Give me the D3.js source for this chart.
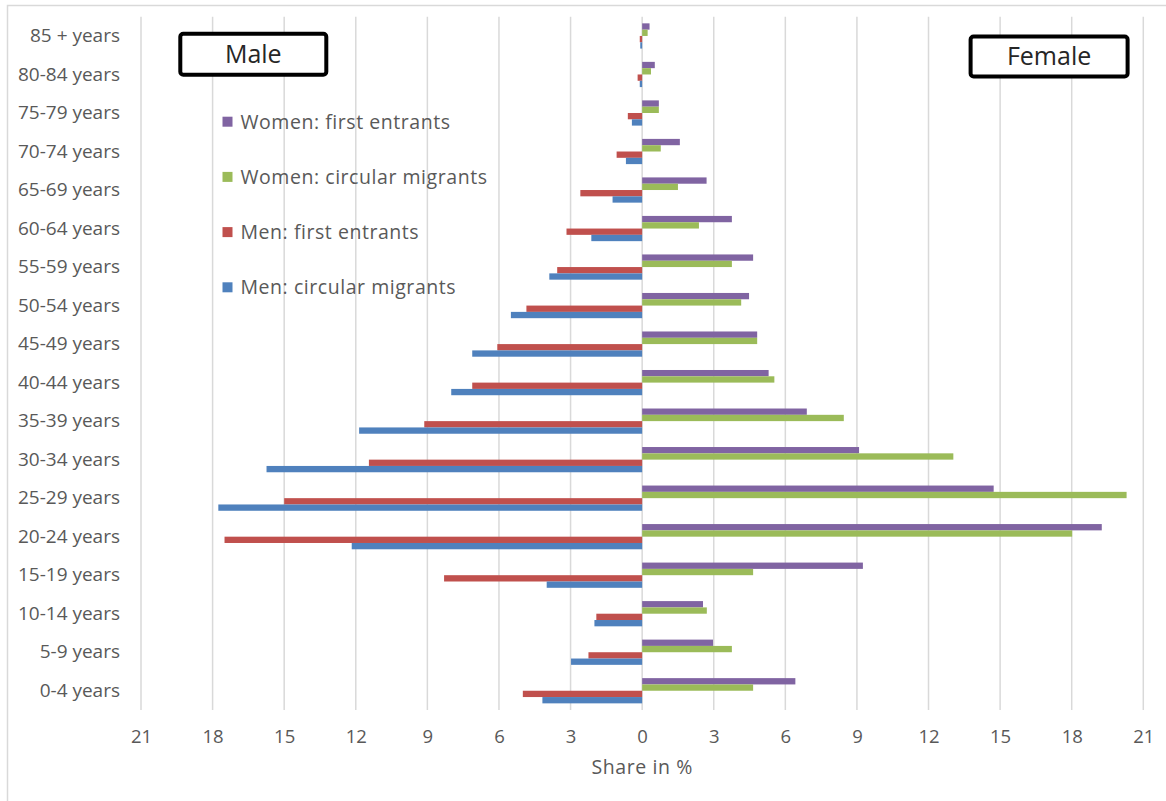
<!DOCTYPE html>
<html>
<head>
<meta charset="utf-8">
<script src="https://cdn.jsdelivr.net/npm/d3@7"></script>
<style>
  html, body { margin: 0; padding: 0; background: #fff; }
  svg { display: block; }
  text { font-family: "Open Sans", "Noto Sans", sans-serif; }
</style>
</head>
<body>
<svg id="chart" width="1166" height="801"></svg>
<script>
// ---------- data (top to bottom) ----------
const categories = ["85 + years","80-84 years","75-79 years","70-74 years","65-69 years","60-64 years",
  "55-59 years","50-54 years","45-49 years","40-44 years","35-39 years","30-34 years",
  "25-29 years","20-24 years","15-19 years","10-14 years","5-9 years","0-4 years"];
const womenFirstEntrants   = [0.31,0.53,0.70,1.58,2.70,3.76,4.65,4.48,4.82,5.30,6.90,9.09,14.73,19.26,9.25,2.55,2.97,6.42];
const womenCircularMigrants= [0.23,0.37,0.70,0.78,1.50,2.38,3.76,4.15,4.82,5.54,8.45,13.04,20.30,18.02,4.65,2.71,3.76,4.65];
const menFirstEntrants     = [0.10,0.19,0.60,1.07,2.59,3.17,3.56,4.85,6.07,7.12,9.13,11.45,15.00,17.50,8.30,1.92,2.25,5.00];
const menCircularMigrants  = [0.08,0.10,0.43,0.68,1.24,2.13,3.89,5.50,7.12,8.00,11.86,15.74,17.76,12.17,4.00,2.00,2.98,4.18];
const seriesNames = ["Women: first entrants","Women: circular migrants","Men: first entrants","Men: circular migrants"];
const seriesColors = ["#8064A2","#9BBB59","#C0504D","#4F81BD"];
const tickValues = [-21,-18,-15,-12,-9,-6,-3,0,3,6,9,12,15,18,21];
const axisTitle = "Share in %";

// ---------- layout ----------
const svg = d3.select("#chart");
const plotLeft = 141, plotRight = 1143.3, plotTop = 16.7, plotBottom = 710;

// outer frame
svg.append("rect").attr("x", 7.5).attr("y", 5.5).attr("width", 1170).attr("height", 810)
  .attr("fill", "none").attr("stroke", "#d9d9d9").attr("stroke-width", 1.5);

const x = d3.scaleLinear().domain([-21, 21]).range([plotLeft, plotRight]);
const y = d3.scaleBand().domain(categories).range([plotTop, plotBottom]).paddingInner(0.345).paddingOuter(0.1725);
const ySub = d3.scaleBand().domain(d3.range(4)).range([0, y.bandwidth()]);

// gridlines
svg.append("g").selectAll("line").data(tickValues).join("line")
  .attr("x1", d => x(d)).attr("x2", d => x(d))
  .attr("y1", plotTop).attr("y2", plotBottom)
  .attr("stroke", "#d9d9d9").attr("stroke-width", 1.5);

// bars
const seriesData = [
  womenFirstEntrants.map(v => v),
  womenCircularMigrants.map(v => v),
  menFirstEntrants.map(v => -v),
  menCircularMigrants.map(v => -v)
];
seriesData.forEach((vals, s) => {
  svg.append("g").selectAll("rect").data(vals).join("rect")
    .attr("x", d => Math.min(x(0), x(d)))
    .attr("width", d => Math.abs(x(d) - x(0)))
    .attr("y", (d, i) => y(categories[i]) + ySub(s))
    .attr("height", ySub.bandwidth())
    .attr("fill", seriesColors[s]);
});

// x axis
const xAxis = d3.axisBottom(x).tickValues(tickValues).tickSize(0).tickPadding(20)
  .tickFormat(d => Math.abs(d));
const gx = svg.append("g").attr("transform", `translate(0,${plotBottom})`).call(xAxis);
gx.select(".domain").remove();
gx.selectAll("text").attr("font-size", 18.5).attr("fill", "#595959")
  .attr("font-family", "'Open Sans', sans-serif");

svg.append("text").attr("x", x(0)).attr("y", 774).attr("text-anchor", "middle")
  .attr("font-size", 19.5).attr("letter-spacing", 0.6).attr("fill", "#595959").text(axisTitle);

// y axis labels
const yAxis = d3.axisLeft(y).tickSize(0).tickPadding(21);
const gy = svg.append("g").attr("transform", `translate(${plotLeft},0)`).call(yAxis);
gy.select(".domain").remove();
gy.selectAll("text").attr("font-size", 19).attr("fill", "#595959")
  .attr("font-family", "'Open Sans', sans-serif");

// legend
const legend = svg.append("g");
seriesNames.forEach((name, i) => {
  const cy = 121.7 + i * 55.2;
  legend.append("rect").attr("x", 222.5).attr("y", cy - 5).attr("width", 10).attr("height", 10)
    .attr("fill", seriesColors[i]);
  legend.append("text").attr("x", 240.5).attr("y", cy).attr("dy", "0.35em")
    .attr("font-size", 19.5).attr("letter-spacing", 0.55).attr("fill", "#595959").text(name);
});

// gender boxes
function box(x0, y0, w, h, label) {
  svg.append("rect").attr("x", x0).attr("y", y0).attr("width", w).attr("height", h)
    .attr("rx", 3).attr("fill", "#fff").attr("stroke", "#000").attr("stroke-width", 4);
  svg.append("text").attr("x", x0 + w / 2).attr("y", y0 + h / 2).attr("dy", "0.35em")
    .attr("text-anchor", "middle").attr("font-size", 25).attr("fill", "#262626").text(label);
}
box(180.3, 33.7, 146, 41, "Male");
box(970.6, 36.5, 157, 40, "Female");
</script>
</body>
</html>
